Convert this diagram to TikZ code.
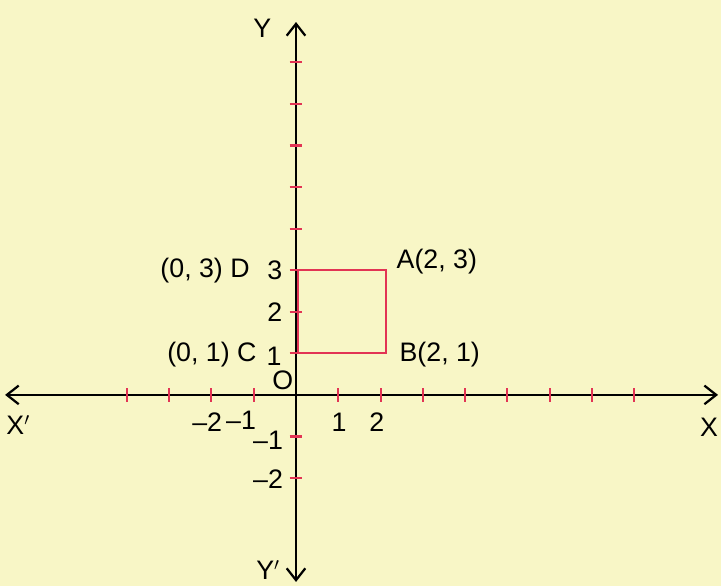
\documentclass[tikz,border=0pt]{standalone}
\usepackage{fontspec}
\setmainfont{Liberation Sans}
\usepackage{xcolor}
\usetikzlibrary{arrows.meta, positioning}

\definecolor{paper}{RGB}{248,246,198}
\definecolor{tickred}{RGB}{226,52,84}

\begin{document}
\begin{tikzpicture}[x=1cm, y=0.983cm, line width=1.4pt,
    axis/.style={{Straight Barb[length=2.8mm,width=4.4mm,line width=1.5pt]}-{Straight Barb[length=2.8mm,width=4.4mm,line width=1.5pt]}},
    tick/.style={tickred, line width=1.4pt},
    lbl/.style={font=\fontsize{18}{20}\selectfont, inner sep=1pt}]
            \fill[paper] (-7.0,-4.59) rectangle (10.05,9.50);
            \useasboundingbox (-7.0,-4.59) rectangle (10.05,9.50);
            % axes
            \coordinate (xl) at (-6.88,0);
            \coordinate (xr) at (9.98,0);
            \coordinate (yb) at (0,-4.5);
            \coordinate (yt) at (0,8.97);
            \draw[axis] (xl) -- (xr);
            \draw[axis] (yb) -- (yt);
            \foreach \i in {-4,-3,-2,-1,1,2,...,8}
                \draw[tick] (\i,-0.17) -- (\i,0.17);
            \foreach \j in {-2,-1,1,2,...,8}
                \draw[tick] (-0.15,\j) -- (0.15,\j);
            % rectangle
            \coordinate (A) at (2.12,3);
            \coordinate (B) at (2.12,1);
            \coordinate (C) at (0.04,1);
            \coordinate (D) at (0.04,3);
            \draw[tickred] (C) -- (B) -- (A) -- (D) -- cycle;
            % labels
            \node[lbl] (ylab) at (-0.80,8.82) {Y};
            \node[lbl] (yplab) at (-0.66,-4.22) {Y$'$};
            \node[lbl] (xplab) at (-6.57,-0.72) {X$'$};
            \node[lbl, anchor=east] (xlab) at (10.04,-0.79) {X};
            \node[lbl] (olab) at (-0.31,0.36) {O};
            \node[lbl] (xm2) at (-2.10,-0.65) {–2};
            \node[lbl] (xm1) at (-1.30,-0.60) {–1};
            \node[lbl] (x1) at (1.02,-0.65) {1};
            \node[lbl] (x2) at (1.91,-0.65) {2};
            \node[lbl] (y3) at (-0.50,3.0) {3};
            \node[lbl] (y2) at (-0.50,2.0) {2};
            \node[lbl] (y1) at (-0.52,0.94) {1};
            \node[lbl] (ym1) at (-0.66,-1.10) {–1};
            \node[lbl] (ym2) at (-0.66,-2.02) {–2};
            \node[lbl] (dlab) at (-2.15,3.0) {(0, 3) D};
            \node[lbl] (clab) at (-1.99,0.96) {(0, 1) C};
            \node[lbl] (alab) at (3.33,3.2) {A(2, 3)};
            \node[lbl] (blab) at (3.40,0.96) {B(2, 1)};
        \end{tikzpicture}
\end{document}
